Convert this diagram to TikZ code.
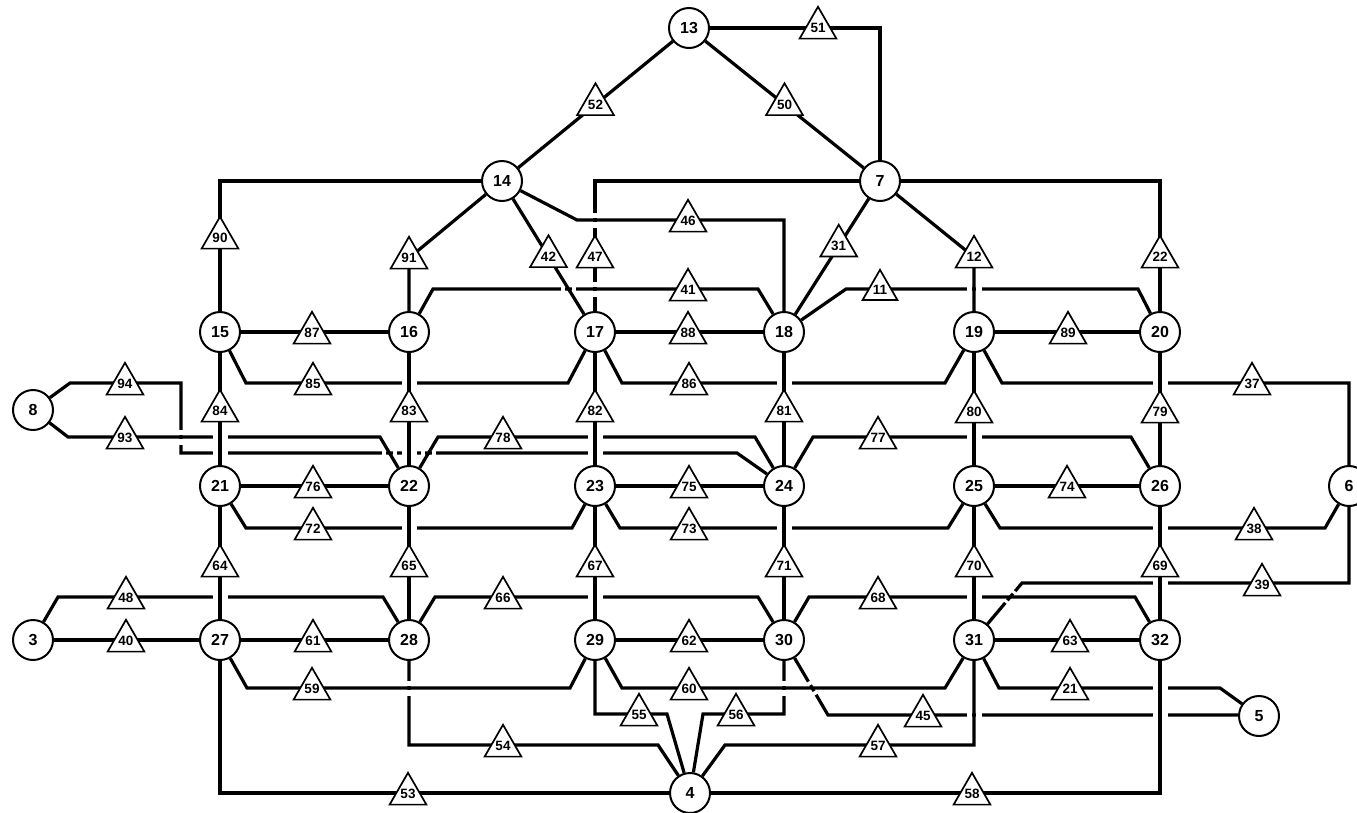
\documentclass[tikz,border=0pt]{standalone}
\usepackage{fontspec}
\setmainfont{Liberation Sans}
\usetikzlibrary{calc,shapes.geometric}
\pgfdeclarelayer{edges}
\pgfdeclarelayer{gaps}
\pgfsetlayers{edges,gaps,main}
\tikzset{
  edge/.style={line width=3.2pt, line join=miter},
  gapcut/.style={white, line width=5pt},
  nd/.style={circle, draw, line width=2pt, fill=white, minimum size=40pt, inner sep=0pt,
    font=\fontsize{16}{16}\selectfont\bfseries},
  tri/.style={regular polygon, regular polygon sides=3, draw, line width=1.7pt, fill=white,
    minimum size=38pt, inner sep=0pt, font=\fontsize{13.5}{13.5}\selectfont\bfseries},
}
% crossing: x, y, angle of the broken line, clearance kept free for the continuous line
\newcommand\crossat[4]{%
  \begin{pgfonlayer}{gaps}
    \draw[gapcut] ($(#1,#2)+(#3:#4)$) -- ($(#1,#2)+(#3:7.5)$);
    \draw[gapcut] ($(#1,#2)+(#3+180:#4)$) -- ($(#1,#2)+(#3+180:7.5)$);
  \end{pgfonlayer}}
\begin{document}
\begin{tikzpicture}[x=1pt,y=-1pt]
\useasboundingbox (0,0) rectangle (1357,812);
% ---------------- nodes ----------------
\node[nd] (n13) at (689,28) {13};
\node[nd] (n14) at (502,181) {14};
\node[nd] (n7)  at (880,181) {7};
\node[nd] (n15) at (220,332) {15};
\node[nd] (n16) at (409,332) {16};
\node[nd] (n17) at (595,332) {17};
\node[nd] (n18) at (784,332) {18};
\node[nd] (n19) at (974,332) {19};
\node[nd] (n20) at (1160,332) {20};
\node[nd] (n8)  at (33,410) {8};
\node[nd] (n21) at (220,486) {21};
\node[nd] (n22) at (409,486) {22};
\node[nd] (n23) at (595,486) {23};
\node[nd] (n24) at (784,486) {24};
\node[nd] (n25) at (974,486) {25};
\node[nd] (n26) at (1160,486) {26};
\node[nd] (n6)  at (1349,486) {6};
\node[nd] (n3)  at (33,640) {3};
\node[nd] (n27) at (220,640) {27};
\node[nd] (n28) at (409,640) {28};
\node[nd] (n29) at (595,640) {29};
\node[nd] (n30) at (784,640) {30};
\node[nd] (n31) at (974,640) {31};
\node[nd] (n32) at (1160,640) {32};
\node[nd] (n5)  at (1259,716) {5};
\node[nd] (n4)  at (690,793) {4};
% ---------------- edges ----------------
\begin{pgfonlayer}{edges}
\fill[white] (0,0) rectangle (1357,812);
\draw[edge] (n13) -- (n14);
\draw[edge] (n13) -- (n7);
\draw[edge] (n13) -| (n7);
\draw[edge] (n14) -| (n15);
\draw[edge] (n14) -- (409,258) -- (n16);
\draw[edge] (n14) -- (n17);
\draw[edge] (n14) -- (577,220) -| (n18);
\draw[edge] (n7) -| (n17);
\draw[edge] (n7) -- (n18);
\draw[edge] (n7) -- (974,257) -- (n19);
\draw[edge] (n7) -| (n20);
\draw[edge] (n16) -- (433,289) -- (758,289) -- (n18);
\draw[edge] (n18) -- (846,289) -- (1138,289) -- (n20);
\draw[edge] (n15) -- (n16);
\draw[edge] (n17) -- (n18);
\draw[edge] (n19) -- (n20);
\draw[edge] (n15) -- (246,383) -- (568,383) -- (n17);
\draw[edge] (n17) -- (622,383) -- (945,383) -- (n19);
\draw[edge] (n19) -- (1002,383) -| (n6);
\foreach \a/\b in {15/21,16/22,17/23,18/24,19/25,20/26,21/27,22/28,23/29,24/30,25/31,26/32}
  \draw[edge] (n\a) -- (n\b);
\draw[edge] (n8) -- (70,383) -- (181,383) -- (181,453) -- (737,453) -- (n24);
\draw[edge] (n8) -- (68,437) -- (380,437) -- (n22);
\draw[edge] (n22) -- (438,437) -- (755,437) -- (n24);
\draw[edge] (n24) -- (813,437) -- (1131,437) -- (n26);
\draw[edge] (n21) -- (n22);
\draw[edge] (n23) -- (n24);
\draw[edge] (n25) -- (n26);
\draw[edge] (n21) -- (246,528) -- (572,528) -- (n23);
\draw[edge] (n23) -- (620,528) -- (948,528) -- (n25);
\draw[edge] (n25) -- (1000,528) -- (1325,528) -- (n6);
\draw[edge] (n6) |- (1022,583) -- (n31);
\draw[edge] (n3) -- (58,597) -- (383,597) -- (n28);
\draw[edge] (n28) -- (435,597) -- (758,597) -- (n30);
\draw[edge] (n30) -- (809,597) -- (1135,597) -- (n32);
\draw[edge] (n3) -- (n27);
\draw[edge] (n27) -- (n28);
\draw[edge] (n29) -- (n30);
\draw[edge] (n31) -- (n32);
\draw[edge] (n27) -- (247,688) -- (570,688) -- (n29);
\draw[edge] (n29) -- (622,688) -- (945,688) -- (n31);
\draw[edge] (n31) -- (999,688) -- (1220,688) -- (n5);
\draw[edge] (n30) -- (828,715) -- (n5.west |- 0,715);
\draw[edge] (n29) |- (667,714) -- (n4);
\draw[edge] (n30) |- (703,714) -- (n4);
\draw[edge] (n28) |- (658,745) -- (n4);
\draw[edge] (n31) |- (725,745) -- (n4);
\draw[edge] (n27) |- (n4);
\draw[edge] (n4) -| (n32);
\end{pgfonlayer}
% ---------------- crossings (broken line gets a gap) ----------------
\crossat{409}{383}{0}{1.9}
\crossat{784}{383}{0}{1.9}
\crossat{1160}{383}{0}{1.9}
\crossat{220}{437}{0}{1.9}
\crossat{220}{453}{0}{1.9}
\crossat{389.5}{453}{0}{3.6}
\crossat{409}{453}{0}{1.9}
\crossat{428.5}{453}{0}{3.6}
\crossat{595}{453}{0}{1.9}
\crossat{595}{437}{0}{1.9}
\crossat{974}{437}{0}{1.9}
\crossat{409}{528}{0}{1.9}
\crossat{784}{528}{0}{1.9}
\crossat{1160}{528}{0}{1.9}
\crossat{220}{597}{0}{1.9}
\crossat{595}{597}{0}{1.9}
\crossat{974}{597}{0}{1.9}
\crossat{1160}{583}{0}{1.9}
\crossat{1010.2}{597}{130.1}{4.5}
\crossat{974}{289}{0}{1.9}
\crossat{568.5}{289}{0}{3.7}
\crossat{595}{220}{90}{1.9}
\crossat{595}{289}{90}{1.9}
\crossat{181}{437}{90}{1.9}
\crossat{409}{688}{90}{1.9}
\crossat{784}{688}{90}{1.9}
\crossat{812.5}{688}{59.3}{3.6}
\crossat{1160}{688}{0}{1.9}
\crossat{974}{715}{0}{1.9}
\crossat{1160}{715}{0}{1.9}
% ---------------- triangle labels ----------------
\node[tri] (t51) at (818,28) {51};
\node[tri] (t52) at ($(n13)!0.5!(n14)$) {52};
\node[tri] (t50) at ($(n13)!0.5!(n7)$) {50};
\node[tri] (t90) at (220,238) {90};
\node[tri] (t91) at (409,258) {91};
\node[tri] (t42) at ($(n14)!0.5!(n17)$) {42};
\node[tri] (t47) at (595,257) {47};
\node[tri] (t46) at (688,221) {46};
\node[tri] (t31) at ($(n7)!0.43!(n18)$) {31};
\node[tri] (t12) at (974,257) {12};
\node[tri] (t22) at (1160,257) {22};
\node[tri] (t41) at (688,290) {41};
\node[tri] (t11) at (880,290) {11};
\node[tri] (t87) at (312,333) {87};
\node[tri] (t88) at (688,333) {88};
\node[tri] (t89) at (1068,333) {89};
\node[tri] (t85) at (313,384) {85};
\node[tri] (t86) at (689,384) {86};
\node[tri] (t37) at (1252,384) {37};
\node[tri] (t94) at (125,384) {94};
\node[tri] (t93) at (125,438) {93};
\node[tri] (t84) at (220,411) {84};
\node[tri] (t83) at (409,411) {83};
\node[tri] (t82) at (595,411) {82};
\node[tri] (t81) at (784,411) {81};
\node[tri] (t80) at (974,412) {80};
\node[tri] (t79) at (1160,412) {79};
\node[tri] (t78) at (503,438) {78};
\node[tri] (t77) at (878,438) {77};
\node[tri] (t76) at (313,487) {76};
\node[tri] (t75) at (689,487) {75};
\node[tri] (t74) at (1067,487) {74};
\node[tri] (t72) at (313,529) {72};
\node[tri] (t73) at (689,529) {73};
\node[tri] (t38) at (1254,529) {38};
\node[tri] (t64) at (220,566) {64};
\node[tri] (t65) at (409,566) {65};
\node[tri] (t67) at (595,566) {67};
\node[tri] (t71) at (784,566) {71};
\node[tri] (t70) at (974,566) {70};
\node[tri] (t69) at (1160,566) {69};
\node[tri] (t39) at (1262,585) {39};
\node[tri] (t48) at (126,598) {48};
\node[tri] (t66) at (503,598) {66};
\node[tri] (t68) at (878,598) {68};
\node[tri] (t40) at (126,641) {40};
\node[tri] (t61) at (313,641) {61};
\node[tri] (t62) at (689,641) {62};
\node[tri] (t63) at (1070,641) {63};
\node[tri] (t59) at (312,689) {59};
\node[tri] (t60) at (689,689) {60};
\node[tri] (t21) at (1070,689) {21};
\node[tri] (t55) at (639,715) {55};
\node[tri] (t56) at (736,715) {56};
\node[tri] (t45) at (923,716) {45};
\node[tri] (t54) at (503,746) {54};
\node[tri] (t57) at (878,746) {57};
\node[tri] (t53) at (408,794) {53};
\node[tri] (t58) at (972,794) {58};
\end{tikzpicture}
\end{document}
